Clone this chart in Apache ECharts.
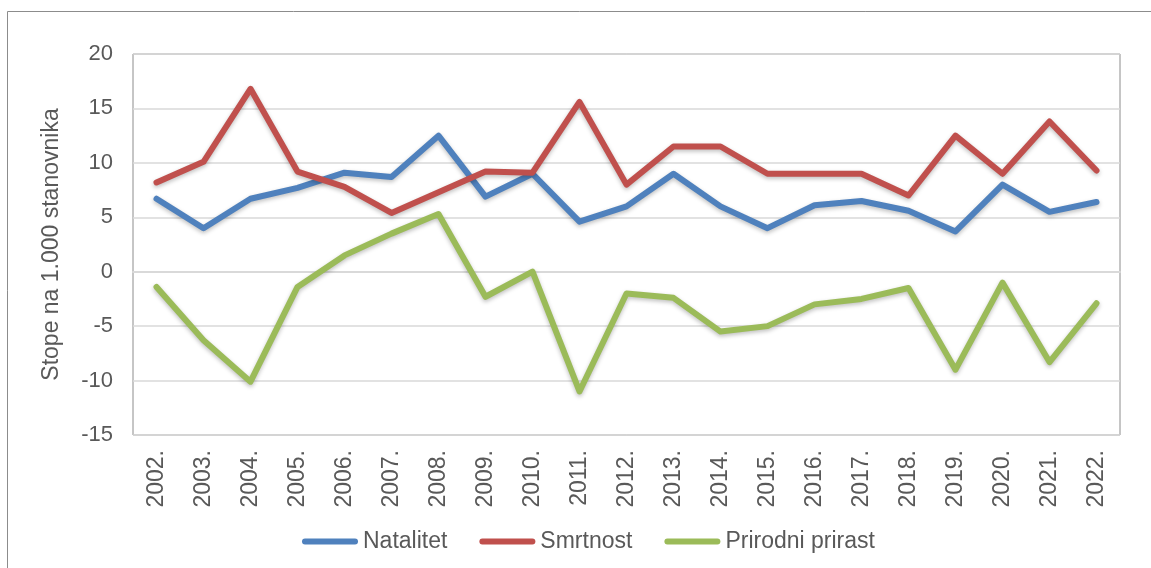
<!DOCTYPE html>
<html>
<head>
<meta charset="utf-8">
<script src="https://cdn.jsdelivr.net/npm/echarts@6/dist/echarts.min.js"></script>
<style>
  html, body { margin: 0; padding: 0; background: #fff; }
  #chart { width: 1151px; height: 568px; }
</style>
</head>
<body>
<div id="chart"></div>
<script>
var years = ['2002.', '2003.', '2004.', '2005.', '2006.', '2007.', '2008.', '2009.', '2010.', '2011.',
    '2012.', '2013.', '2014.', '2015.', '2016.', '2017.', '2018.', '2019.', '2020.', '2021.', '2022.'];
var natalitet = [6.7, 4.0, 6.7, 7.7, 9.1, 8.7, 12.5, 6.9, 9.0, 4.6, 6.0, 9.0, 6.0, 4.0, 6.1, 6.5, 5.6, 3.7, 8.0, 5.5, 6.4];
var smrtnost = [8.2, 10.1, 16.8, 9.2, 7.8, 5.4, 7.3, 9.2, 9.1, 15.6, 8.0, 11.5, 11.5, 9.0, 9.0, 9.0, 7.0, 12.5, 9.0, 13.8, 9.3];
var prirast = [-1.4, -6.3, -10.1, -1.4, 1.5, 3.5, 5.3, -2.3, 0.0, -11.0, -2.0, -2.4, -5.5, -5.0, -3.0, -2.5, -1.5, -9.0, -1.0, -8.3, -2.9];
var seriesNames = ['Natalitet', 'Smrtnost', 'Prirodni prirast'];
var colors = ['#4F81BD', '#C0504D', '#9BBB59'];

var font = '"Liberation Sans", Arial, sans-serif';
var myChart = echarts.init(document.getElementById('chart'));

function line(name, data, color) {
    return {
        name: name,
        type: 'line',
        data: data,
        symbol: 'none',
        color: color,
        lineStyle: {
            width: 6,
            color: color,
            cap: 'round',
            join: 'round',
            shadowColor: 'rgba(0,0,0,0.25)',
            shadowBlur: 4,
            shadowOffsetY: 2
        }
    };
}

var option = {
    animation: false,
    backgroundColor: '#fff',
    graphic: [{
        // outer chart frame (only left/top visible in the picture)
        type: 'rect',
        shape: { x: 7.5, y: 11.5, width: 1200, height: 600 },
        style: { fill: 'none', stroke: '#8c8c8c', lineWidth: 1 },
        silent: true
    }],
    grid: {
        left: 133,
        top: 54,
        right: 31,
        bottom: 133,
        show: true,
        borderColor: '#8c8c8c',
        borderWidth: 1
    },
    legend: {
        left: 302,
        top: 530,
        padding: 0,
        itemGap: 32,
        itemWidth: 56,
        itemHeight: 7,
        icon: 'path://M3,0 L53,0 A3,3 0 0 1 53,6 L3,6 A3,3 0 0 1 3,0 Z',
        textStyle: { fontFamily: font, fontSize: 23, color: '#595959' },
        data: seriesNames
    },
    xAxis: {
        type: 'category',
        data: years,
        boundaryGap: true,
        axisLine: { lineStyle: { color: '#d9d9d9', width: 2 } },
        axisTick: { show: false },
        axisLabel: {
            rotate: 90,
            margin: 15,
            interval: 0,
            fontFamily: font,
            fontSize: 23,
            color: '#595959'
        }
    },
    yAxis: {
        type: 'value',
        min: -15,
        max: 20,
        interval: 5,
        name: 'Stope na 1.000 stanovnika',
        nameLocation: 'middle',
        nameRotate: 90,
        nameGap: 70,
        nameTextStyle: { fontFamily: font, fontSize: 23, color: '#595959' },
        axisLine: { show: false },
        axisTick: { show: false },
        axisLabel: {
            margin: 20,
            fontFamily: font,
            fontSize: 22,
            color: '#595959'
        },
        splitLine: { lineStyle: { color: '#d9d9d9', width: 1.5 } }
    },
    series: [
        line(seriesNames[0], natalitet, colors[0]),
        line(seriesNames[1], smrtnost, colors[1]),
        line(seriesNames[2], prirast, colors[2])
    ]
};

myChart.setOption(option);
</script>
</body>
</html>
